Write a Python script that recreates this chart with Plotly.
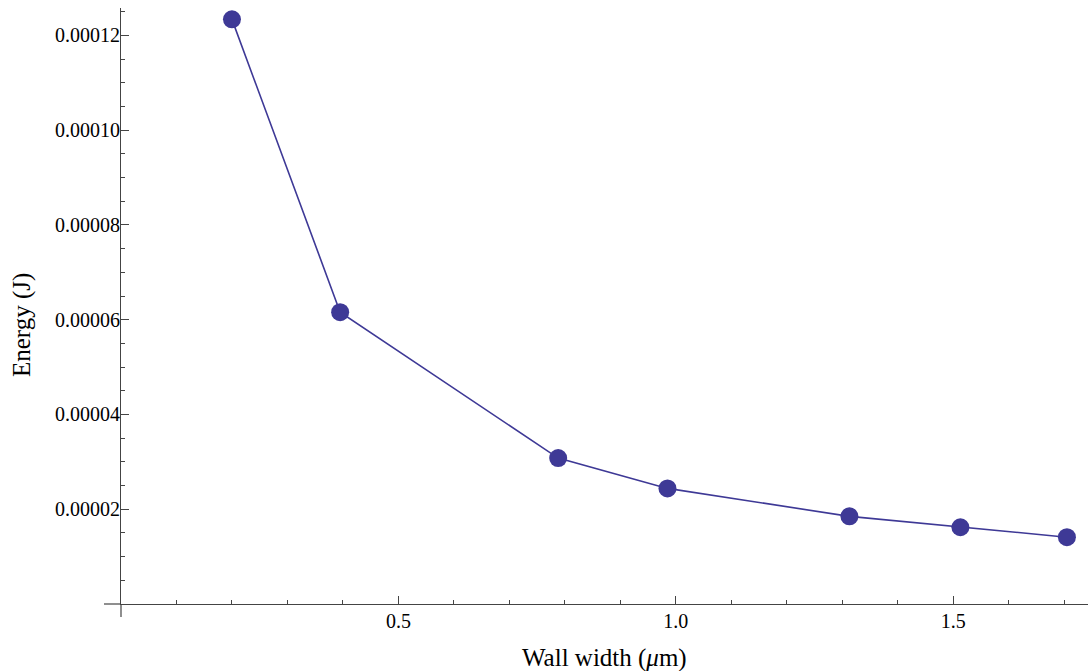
import plotly.graph_objects as go

# Data
wall_width = [0.2, 0.395, 0.788, 0.985, 1.313, 1.513, 1.705]
energy = [1.234e-4, 6.16e-5, 3.08e-5, 2.44e-5, 1.85e-5, 1.62e-5, 1.41e-5]

y_ticks = [2e-5, 4e-5, 6e-5, 8e-5, 1.0e-4, 1.2e-4]
y_ticklabels = ["0.00002", "0.00004", "0.00006", "0.00008", "0.00010", "0.00012"]
x_ticks = [0.5, 1.0, 1.5]
x_ticklabels = ["0.5", "1.0", "1.5"]

color = "rgb(62,57,150)"
axis_color = "#444444"
font_family = "Liberation Serif"

W, H = 1088, 671
ml, mr, mt, mb = 121, 0, 8, 67
pw, ph = W - ml - mr, H - mt - mb

fig = go.Figure()
fig.add_trace(go.Scatter(
    x=wall_width, y=energy, mode="lines+markers",
    line=dict(color=color, width=1.6),
    marker=dict(color=color, size=18),
    cliponaxis=False, showlegend=False,
))

fig.update_layout(
    width=W, height=H,
    margin=dict(l=ml, r=mr, t=mt, b=mb),
    paper_bgcolor="white", plot_bgcolor="white",
    font=dict(family=font_family, size=20, color="black"),
    xaxis=dict(
        range=[0, 1.743], showgrid=False, zeroline=False,
        showline=True, linecolor=axis_color, linewidth=1.2,
        tickmode="array", tickvals=x_ticks, ticktext=x_ticklabels,
        ticks="inside", ticklen=8, tickcolor=axis_color, tickwidth=1,
        minor=dict(tickmode="linear", tick0=0, dtick=0.1, ticks="inside",
                   ticklen=4, tickcolor=axis_color, tickwidth=1, showgrid=False),
        tickfont=dict(family=font_family, size=20, color="black"),
        ticklabelstandoff=-1,
    ),
    yaxis=dict(
        range=[0, 1.258e-4], showgrid=False, zeroline=False,
        showline=True, linecolor=axis_color, linewidth=1.2,
        tickmode="array", tickvals=y_ticks, ticktext=y_ticklabels,
        ticks="inside", ticklen=8, tickcolor=axis_color, tickwidth=1,
        minor=dict(tickmode="linear", tick0=0, dtick=5e-6, ticks="inside",
                   ticklen=4, tickcolor=axis_color, tickwidth=1, showgrid=False),
        tickfont=dict(family=font_family, size=20, color="black"),
        ticklabelstandoff=-4,
    ),
    shapes=[
        dict(type="line", xref="paper", yref="paper",
             x0=-17 / pw, x1=0, y0=0, y1=0,
             line=dict(color=axis_color, width=1.2)),
        dict(type="line", xref="paper", yref="paper",
             x0=0, x1=0, y0=0, y1=-13 / ph,
             line=dict(color=axis_color, width=1.2)),
    ],
    annotations=[
        dict(text="Wall width (<i>μ</i>m)", xref="paper", yref="paper",
             x=0.5, y=-54 / ph, xanchor="center", yanchor="middle",
             showarrow=False, font=dict(family=font_family, size=25, color="black")),
        dict(text="Energy (J)", xref="paper", yref="paper",
             x=-99 / pw, y=(604 - 325) / ph, xanchor="center", yanchor="middle",
             textangle=-90, showarrow=False,
             font=dict(family=font_family, size=25, color="black")),
    ],
)

fig.write_html("out.html")
